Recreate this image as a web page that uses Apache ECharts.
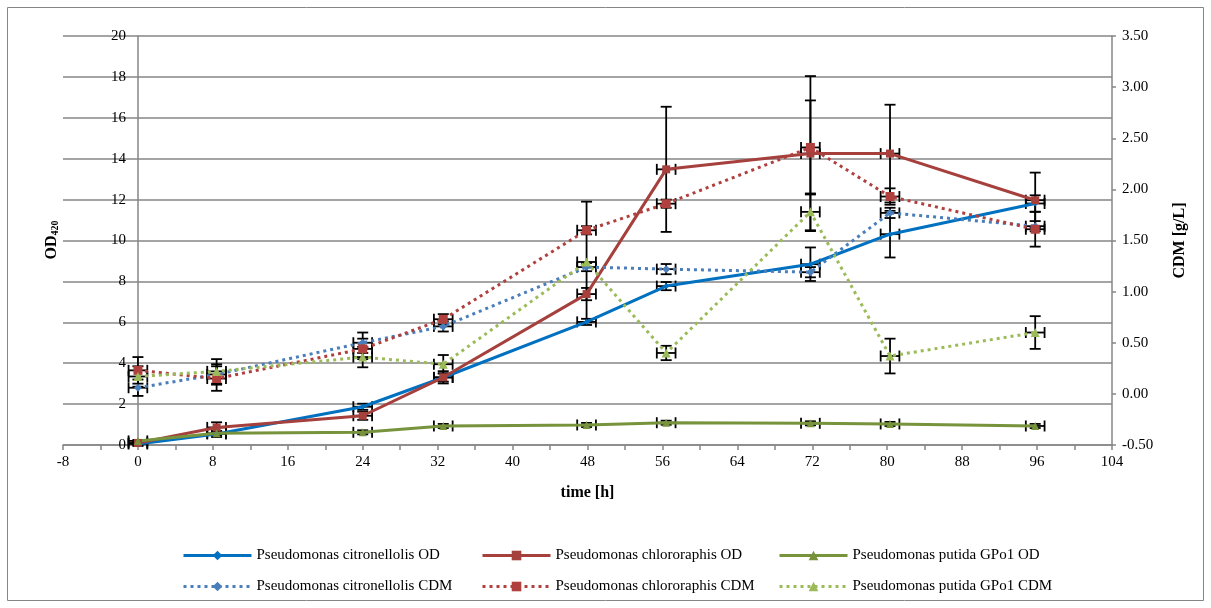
<!DOCTYPE html>
<html>
<head>
<meta charset="utf-8">
<script src="https://cdn.jsdelivr.net/npm/echarts@6/dist/echarts.min.js"></script>
<style>
html,body{margin:0;padding:0;background:#fff;}
#chart{width:1211px;height:608px;}
</style>
</head>
<body>
<div id="chart"></div>
<script>
// ---- data ----
const times = [0, 8.4, 24, 32.6, 47.9, 56.4, 71.8, 80.3, 95.8];
const timeErr = [1, 1, 1, 1, 1, 1, 1, 1, 1];

const citOD  = [0.05, 0.54, 1.87, 3.30, 6.02, 7.77, 8.84, 10.31, 11.81];
const chlOD  = [0.10, 0.86, 1.43, 3.31, 7.38, 13.48, 14.25, 14.25, 11.97];
const putOD  = [0.20, 0.57, 0.62, 0.93, 0.98, 1.09, 1.06, 1.03, 0.93];
const citCDM = [0.06, 0.19, 0.50, 0.66, 1.24, 1.22, 1.19, 1.77, 1.64];
const chlCDM = [0.23, 0.15, 0.44, 0.73, 1.60, 1.86, 2.41, 1.93, 1.61];
const putCDM = [0.17, 0.22, 0.36, 0.29, 1.29, 0.40, 1.78, 0.37, 0.60];

const citODErr  = [0.10, 0.15, 0.15, 0.20, 0.15, 0.20, 0.82, 1.14, 0.40];
const chlODErr  = [0.10, 0.25, 0.20, 0.30, 0.30, 3.06, 3.79, 2.39, 1.35];
const putODErr  = [0.05, 0.10, 0.10, 0.10, 0.10, 0.10, 0.10, 0.10, 0.10];
const citCDMErr = [0.08, 0.10, 0.10, 0.05, 0.04, 0.05, 0.05, 0.05, 0.05];
const chlCDMErr = [0.13, 0.12, 0.10, 0.05, 0.04, 0.04, 0.46, 0.08, 0.17];
const putCDMErr = [0.10, 0.12, 0.10, 0.09, 0.59, 0.07, 0.18, 0.17, 0.16];

const seriesNames = [
  'Pseudomonas citronellolis OD', 'Pseudomonas chlororaphis OD', 'Pseudomonas putida GPo1 OD',
  'Pseudomonas citronellolis CDM', 'Pseudomonas chlororaphis CDM', 'Pseudomonas putida GPo1 CDM'
];
const xTicks = {min: -8, max: 104, interval: 8};
const odTicks = {min: 0, max: 20, interval: 2};
const cdmTicks = {min: -0.5, max: 3.5, interval: 0.5};

// ---- build ----
const FONT = 'Liberation Serif';
const AXIS_GRAY = '#868686';
const pts = (ys) => times.map((t, i) => [t, ys[i]]);
const errPts = (ys, es) => times.map((t, i) => [t, ys[i], es[i], timeErr[i]]);

function renderErr(params, api) {
  const x = api.value(0), y = api.value(1), ey = api.value(2), ex = api.value(3);
  const c = api.coord([x, y]);
  const top = api.coord([x, y + ey]);
  const bot = api.coord([x, y - ey]);
  const l = api.coord([x - ex, y]);
  const r = api.coord([x + ex, y]);
  const cap = 5.5;
  const st = {stroke: '#000', lineWidth: 1.8};
  const ln = (x1, y1, x2, y2) => ({type: 'line', shape: {x1, y1, x2, y2}, style: st});
  return {
    type: 'group',
    children: [
      ln(c[0], top[1], c[0], bot[1]),
      ln(c[0] - cap, top[1], c[0] + cap, top[1]),
      ln(c[0] - cap, bot[1], c[0] + cap, bot[1]),
      ln(l[0], c[1], r[0], c[1]),
      ln(l[0], c[1] - cap, l[0], c[1] + cap),
      ln(r[0], c[1] - cap, r[0], c[1] + cap)
    ]
  };
}

const styles = [
  {color: '#0070C0', dotted: false, symbol: 'diamond', size: 6, y: 0, data: citOD, err: citODErr},
  {color: '#A5403D', dotted: false, symbol: 'rect', size: 8, y: 0, data: chlOD, err: chlODErr},
  {color: '#77933C', dotted: false, symbol: 'triangle', size: 8, y: 0, data: putOD, err: putODErr},
  {color: '#4A7EBB', dotted: true, symbol: 'diamond', size: 8, y: 1, data: citCDM, err: citCDMErr},
  {color: '#B0403E', dotted: true, symbol: 'rect', size: 9, y: 1, data: chlCDM, err: chlCDMErr},
  {color: '#9BBB59', dotted: true, symbol: 'triangle', size: 9, y: 1, data: putCDM, err: putCDMErr}
];

const series = [];
styles.forEach((s, i) => {
  series.push({
    name: seriesNames[i] + ' err',
    type: 'custom',
    yAxisIndex: s.y,
    renderItem: renderErr,
    data: errPts(s.data, s.err),
    encode: {x: 0, y: 1},
    silent: true,
    z: 2
  });
});
styles.forEach((s, i) => {
  series.push({
    name: seriesNames[i],
    type: 'line',
    yAxisIndex: s.y,
    data: pts(s.data),
    symbol: s.symbol,
    symbolSize: s.size,
    showSymbol: true,
    lineStyle: {color: s.color, width: 3, type: s.dotted ? [3, 4] : 'solid'},
    itemStyle: {color: s.color},
    z: 3
  });
});

const legendPos = [
  [177, 543], [476, 543], [773, 543],
  [177, 574], [476, 574], [773, 574]
];
const legends = seriesNames.map((n, i) => ({
  data: [n],
  left: legendPos[i][0],
  top: legendPos[i][1],
  itemWidth: 68,
  itemHeight: 12,
  lineStyle: {width: 3},
  textStyle: {fontFamily: FONT, fontSize: 15, color: '#000'},
  selectedMode: false
}));

const option = {
  animation: false,
  textStyle: {fontFamily: FONT},
  grid: {left: 63, right: 99, top: 36, bottom: 163},
  legend: legends,
  graphic: [
    {type: 'rect', shape: {x: 7.5, y: 7.5, width: 1196, height: 593},
     style: {fill: 'none', stroke: AXIS_GRAY, lineWidth: 1}, silent: true, z: -1},
    {type: 'text', x: 50, y: 240, rotation: Math.PI / 2,
     style: {
       text: '{a|OD}{b|420}',
       align: 'center', verticalAlign: 'middle',
       rich: {
         a: {fontFamily: FONT, fontSize: 16, fontWeight: 'bold', fill: '#000', verticalAlign: 'bottom', lineHeight: 20},
         b: {fontFamily: FONT, fontSize: 10, fontWeight: 'bold', fill: '#000', verticalAlign: 'bottom', lineHeight: 14}
       }
     }}
  ],
  xAxis: {
    type: 'value', min: xTicks.min, max: xTicks.max, interval: xTicks.interval,
    axisLine: {show: true, onZero: false, lineStyle: {color: AXIS_GRAY, width: 1.5}},
    axisTick: {show: true, length: 5, lineStyle: {color: AXIS_GRAY, width: 1.5}},
    minorTick: {show: true, splitNumber: 2, length: 5, lineStyle: {color: AXIS_GRAY, width: 1.5}},
    splitLine: {show: false},
    axisLabel: {color: '#000', fontFamily: FONT, fontSize: 15, margin: 10},
    name: 'time [h]', nameLocation: 'middle', nameGap: 40,
    nameTextStyle: {color: '#000', fontFamily: FONT, fontSize: 16, fontWeight: 'bold'}
  },
  yAxis: [
    {
      type: 'value', min: odTicks.min, max: odTicks.max, interval: odTicks.interval, position: 'left',
      offset: -75,
      axisLine: {show: true, onZero: false, lineStyle: {color: AXIS_GRAY, width: 1.5}},
      axisTick: {show: false},
      axisLabel: {color: '#000', fontFamily: FONT, fontSize: 15, margin: 12},
      splitLine: {show: true, lineStyle: {color: AXIS_GRAY, width: 1.5}}
    },
    {
      type: 'value', min: cdmTicks.min, max: cdmTicks.max, interval: cdmTicks.interval, position: 'right',
      axisLine: {show: true, onZero: false, lineStyle: {color: AXIS_GRAY, width: 1.5}},
      axisTick: {show: true, length: 4, lineStyle: {color: AXIS_GRAY, width: 1.5}},
      axisLabel: {color: '#000', fontFamily: FONT, fontSize: 15, margin: 10, formatter: v => v.toFixed(2)},
      splitLine: {show: false},
      name: 'CDM [g/L]', nameLocation: 'middle', nameRotate: 90, nameGap: 60,
      nameTextStyle: {color: '#000', fontFamily: FONT, fontSize: 16, fontWeight: 'bold'}
    }
  ],
  series: series
};

const chart = echarts.init(document.getElementById('chart'), null, {renderer: 'canvas'});
chart.setOption(option);
</script>
</body>
</html>
